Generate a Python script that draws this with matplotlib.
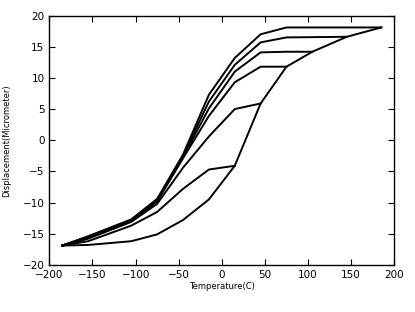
import matplotlib
matplotlib.use('Agg')
import matplotlib.pyplot as plt

# heating branch (shared by all loops)
t_heat = [-185, -155, -105, -75, -45, -15, 15, 45, 75, 105, 145, 185]
d_heat = [-16.9, -16.8, -16.2, -15.1, -12.8, -9.5, -4.1, 5.9, 11.8, 14.2, 16.6, 18.1]

# cooling branches, one per maximum temperature
t_cool_15 = [15, -15, -45, -75, -105, -155, -185]
d_cool_15 = [-4.1, -4.7, -7.8, -11.5, -13.7, -16.2, -16.9]

t_cool_45 = [45, 15, -15, -45, -75, -105, -155, -185]
d_cool_45 = [5.9, 5.0, 0.6, -4.4, -10.2, -13.1, -15.8, -16.9]

t_cool_75 = [75, 45, 15, -15, -45, -75, -105, -155, -185]
d_cool_75 = [11.8, 11.8, 9.3, 3.9, -2.9, -9.8, -12.9, -15.6, -16.9]

t_cool_105 = [105, 75, 45, 15, -15, -45, -75, -105, -155, -185]
d_cool_105 = [14.2, 14.2, 14.1, 11.0, 5.1, -2.7, -9.7, -12.8, -15.5, -16.9]

t_cool_145 = [145, 75, 45, 15, -15, -45, -75, -105, -155, -185]
d_cool_145 = [16.6, 16.5, 15.7, 12.1, 6.2, -2.5, -9.6, -12.8, -15.5, -16.9]

t_cool_185 = [185, 75, 45, 15, -15, -45, -75, -105, -155, -185]
d_cool_185 = [18.1, 18.1, 17.0, 13.2, 7.3, -2.3, -9.4, -12.7, -15.4, -16.9]

fig = plt.figure(figsize=(4.15, 3.12), dpi=100)
ax = fig.add_axes([0.119, 0.151, 0.831, 0.799])

ax.plot(t_heat, d_heat, color='black', linewidth=1.4)
for t, d in [(t_cool_15, d_cool_15), (t_cool_45, d_cool_45), (t_cool_75, d_cool_75),
             (t_cool_105, d_cool_105), (t_cool_145, d_cool_145), (t_cool_185, d_cool_185)]:
    ax.plot(t, d, color='black', linewidth=1.4)

ax.set_xlim(-200, 200)
ax.set_ylim(-20, 20)
ax.set_xticks(range(-200, 201, 50))
ax.set_yticks(range(-20, 21, 5))
ax.tick_params(direction='in', top=True, right=True, labelsize=7.5, length=4, width=0.8)
for s in ax.spines.values():
    s.set_linewidth(1.0)

ax.set_xlabel('Temperature(C)', fontsize=6, labelpad=1.5)
ax.set_ylabel('Displacement(Micrometer)', fontsize=6, labelpad=8)

fig.savefig('out.png', dpi=100)
